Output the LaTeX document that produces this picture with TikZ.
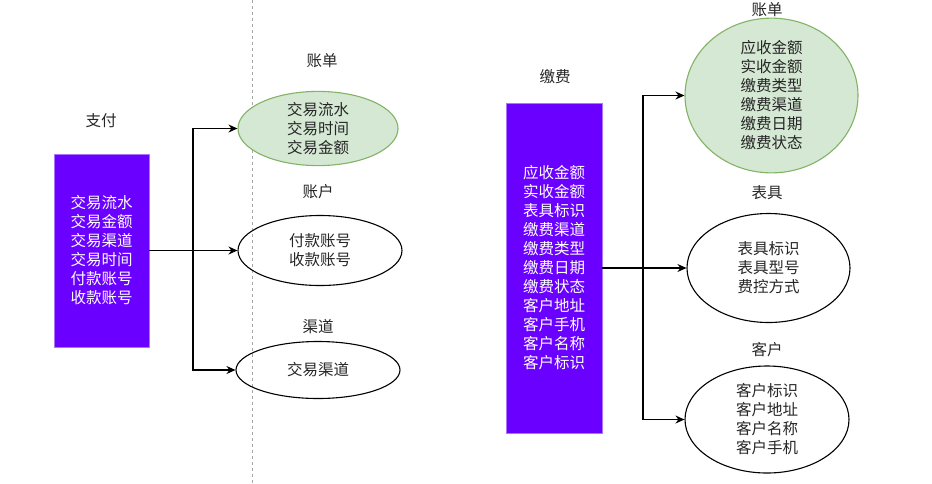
\documentclass[tikz,border=0pt]{standalone}
\usepackage{fontspec}
\setmainfont{Noto Sans CJK SC}
\usetikzlibrary{arrows.meta,shapes.geometric}
\definecolor{tblue}{HTML}{6A00FF}
\definecolor{tgreen}{HTML}{D5E8D4}
\definecolor{tgreenline}{HTML}{82B366}
\begin{document}
\begin{tikzpicture}[x=1pt, y=-1pt,
  font=\fontsize{15.5}{19}\selectfont,
  tbl/.style={draw=tblue!55!white, fill=tblue, text=white, align=center, inner sep=0pt},
  ent/.style={draw, ellipse, line width=1.1pt, inner sep=0pt, align=center, text=black!85},
  green/.style={fill=tgreen, draw=tgreenline},
  ttl/.style={text=black!85},
  arr/.style={-{Stealth[length=9pt,width=8pt]}, line width=1.1pt}]
  \useasboundingbox (0,0) rectangle (932,483);
  \draw[dashed, gray!70] (252,0) -- (252,483);
  % pay side
  \node[ttl] (zfT) at (101,121) {支付};
  \node[tbl, minimum width=95, minimum height=193] (zf) at (101.5,250.5)
    {交易流水\\交易金额\\交易渠道\\交易时间\\付款账号\\收款账号};
  \node[ttl] (zdT) at (322,61) {账单};
  \node[ent, green, minimum width=160, minimum height=73] (zd) at (318,128.5)
    {交易流水\\交易时间\\交易金额};
  \node[ttl] (zhT) at (318,192) {账户};
  \node[ent, minimum width=164, minimum height=70] (zh) at (320,250.5)
    {付款账号\\收款账号};
  \node[ttl] (qdT) at (318,327) {渠道};
  \node[ent, minimum width=164, minimum height=57] (qd) at (318,370)
    {交易渠道};
  \coordinate (zfj) at (193,250.5);
  \draw[line width=1.1pt] (zf.east) -- (zfj);
  \draw[arr] (zfj) |- (zd.west);
  \draw[arr] (zfj) -- (zh.west);
  \draw[arr] (zfj) |- (qd.west);
  % fee side
  \node[ttl] (jfT) at (555,77) {缴费};
  \node[tbl, minimum width=96, minimum height=330] (jf) at (554,268)
    {应收金额\\实收金额\\表具标识\\缴费渠道\\缴费类型\\缴费日期\\缴费状态\\客户地址\\客户手机\\客户名称\\客户标识};
  \node[ttl] (jdT) at (767,10) {账单};
  \node[ent, green, minimum width=173, minimum height=119] (jd) at (771.5,95.5)
    {应收金额\\实收金额\\缴费类型\\缴费渠道\\缴费日期\\缴费状态};
  \node[ttl] (bjT) at (767,193) {表具};
  \node[ent, minimum width=163, minimum height=109] (bj) at (768.5,268)
    {表具标识\\表具型号\\费控方式};
  \node[ttl] (khT) at (767,350) {客户};
  \node[ent, minimum width=164, minimum height=107] (kh) at (767,419.5)
    {客户标识\\客户地址\\客户名称\\客户手机};
  \coordinate (jfj) at (643,268);
  \draw[line width=1.1pt] (jf.east) -- (jfj);
  \draw[arr] (jfj) |- (jd.west);
  \draw[arr] (jfj) -- (bj.west);
  \draw[arr] (jfj) |- (kh.west);
\end{tikzpicture}
\end{document}
